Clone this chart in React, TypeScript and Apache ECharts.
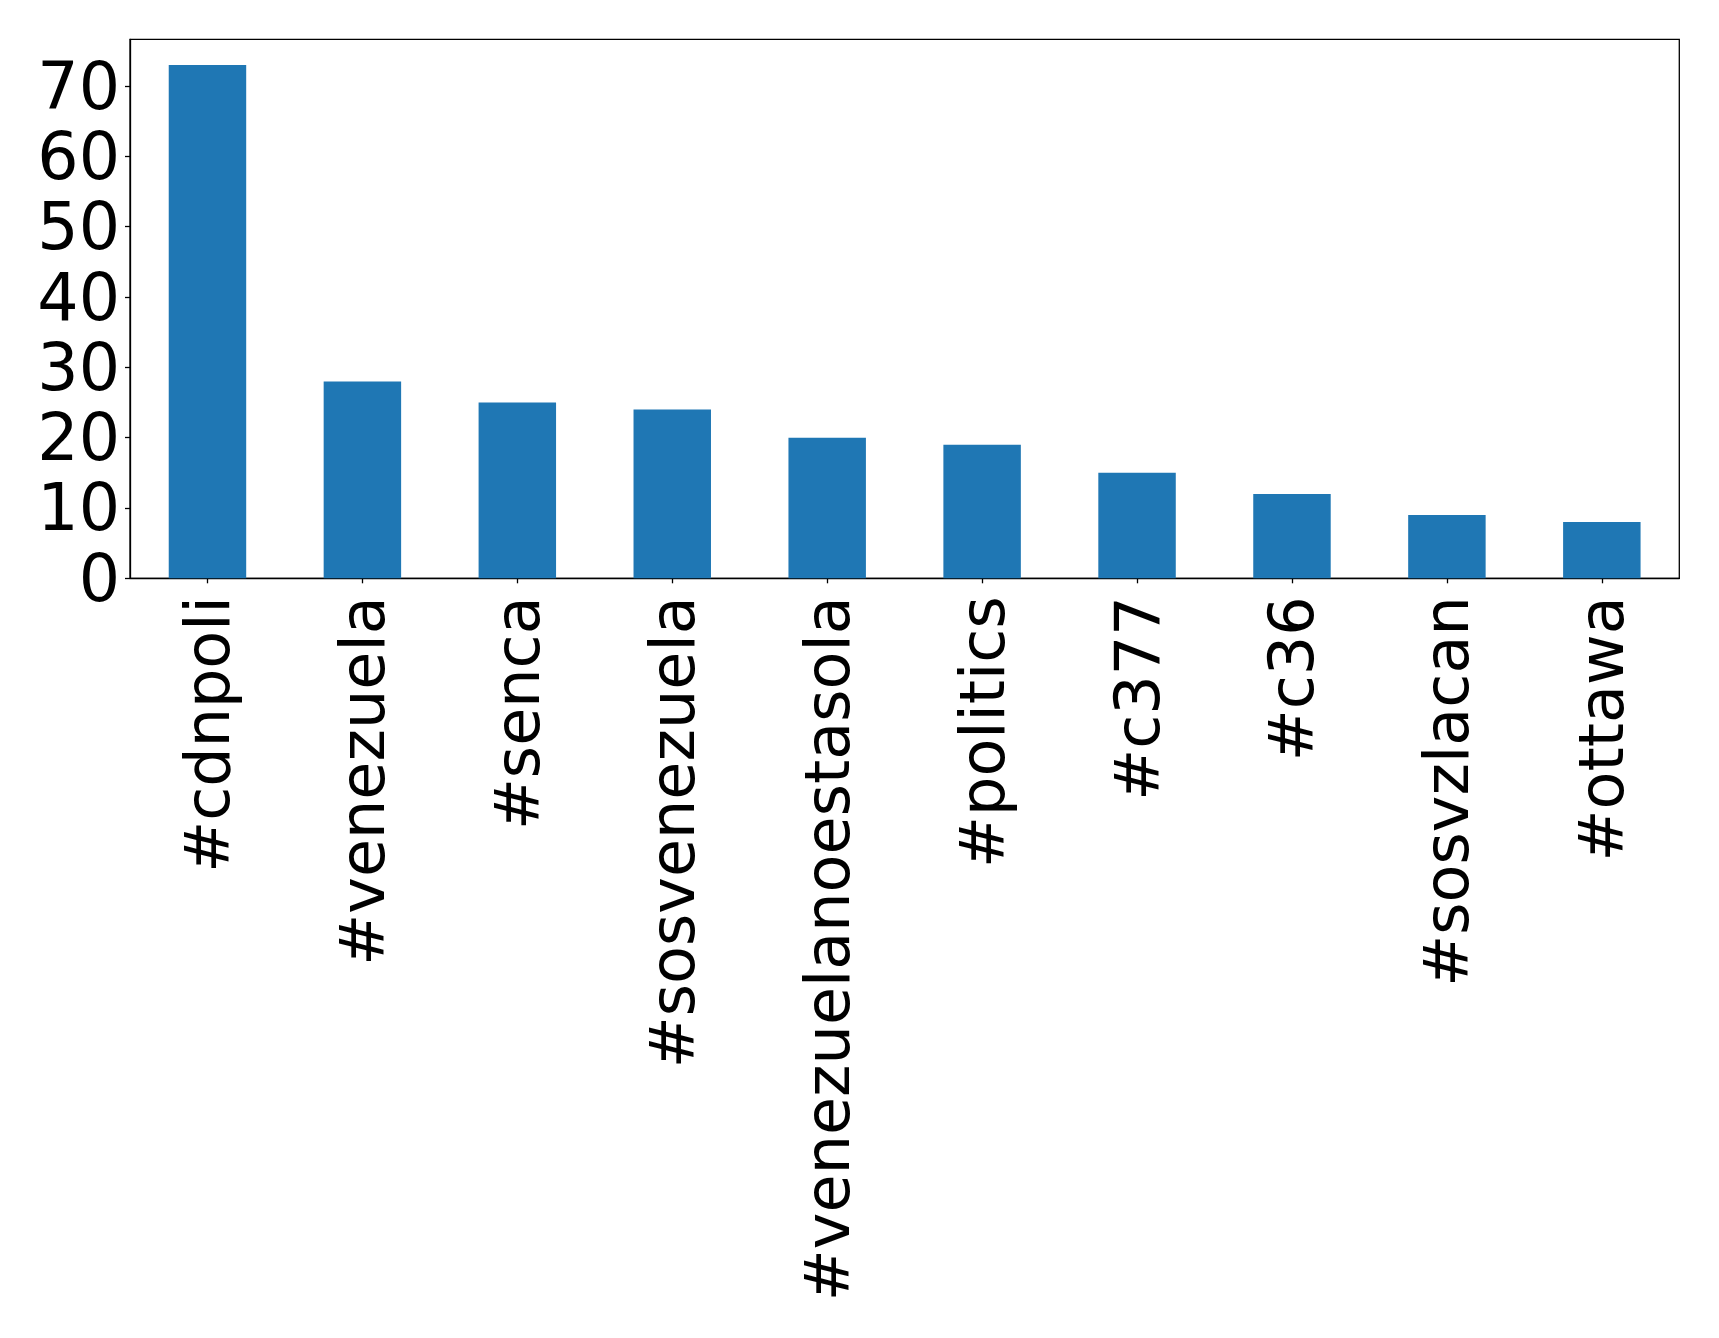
import React, { useEffect, useRef } from "react";
import * as echarts from "echarts";

const categories = [
  "#cdnpoli",
  "#venezuela",
  "#senca",
  "#sosvenezuela",
  "#venezuelanoestasola",
  "#politics",
  "#c377",
  "#c36",
  "#sosvzlacan",
  "#ottawa",
];
const counts = [73, 28, 25, 24, 20, 19, 15, 12, 9, 8];
const yTicks = [0, 10, 20, 30, 40, 50, 60, 70];

export default function App() {
  const ref = useRef<HTMLDivElement>(null);
  useEffect(() => {
    if (!ref.current) return;
    const chart = echarts.init(ref.current, null, { renderer: "svg" });
    const font = "DejaVu Sans";
    const yMax = Math.max(...counts) * 1.05;
    chart.setOption({
      animation: false,
      backgroundColor: "#ffffff",
      grid: {
        left: 130,
        top: 39.3,
        right: 39.7,
        bottom: 759.7,
        containLabel: false,
        show: true,
        borderColor: "#000000",
        borderWidth: 1.3,
        backgroundColor: "transparent",
      },
      xAxis: {
        type: "category",
        data: categories,
        boundaryGap: true,
        axisLine: { show: true, lineStyle: { color: "#000000", width: 1.3 } },
        axisTick: {
          show: true,
          alignWithLabel: true,
          length: 5,
          lineStyle: { color: "#000000", width: 1.3 },
        },
        axisLabel: {
          rotate: 90,
          interval: 0,
          margin: 18,
          fontSize: 62,
          fontFamily: font,
          color: "#000000",
        },
        splitLine: { show: false },
      },
      yAxis: {
        type: "value",
        min: 0,
        max: yMax,
        interval: 10,
        axisLine: { show: true, lineStyle: { color: "#000000", width: 1.3 } },
        axisTick: {
          show: true,
          length: 5,
          customValues: yTicks,
          lineStyle: { color: "#000000", width: 1.3 },
        },
        axisLabel: {
          margin: 10,
          fontSize: 65,
          fontFamily: font,
          color: "#000000",
          customValues: yTicks,
        },
        splitLine: { show: false },
      },
      series: [
        {
          type: "bar",
          data: counts,
          barWidth: "50%",
          itemStyle: { color: "#1f77b4" },
        },
      ],
    });
    return () => chart.dispose();
  }, []);
  return (
    <div
      ref={ref}
      style={{ position: "fixed", left: 0, top: 0, width: 1719, height: 1338, background: "#fff" }}
    />
  );
}
